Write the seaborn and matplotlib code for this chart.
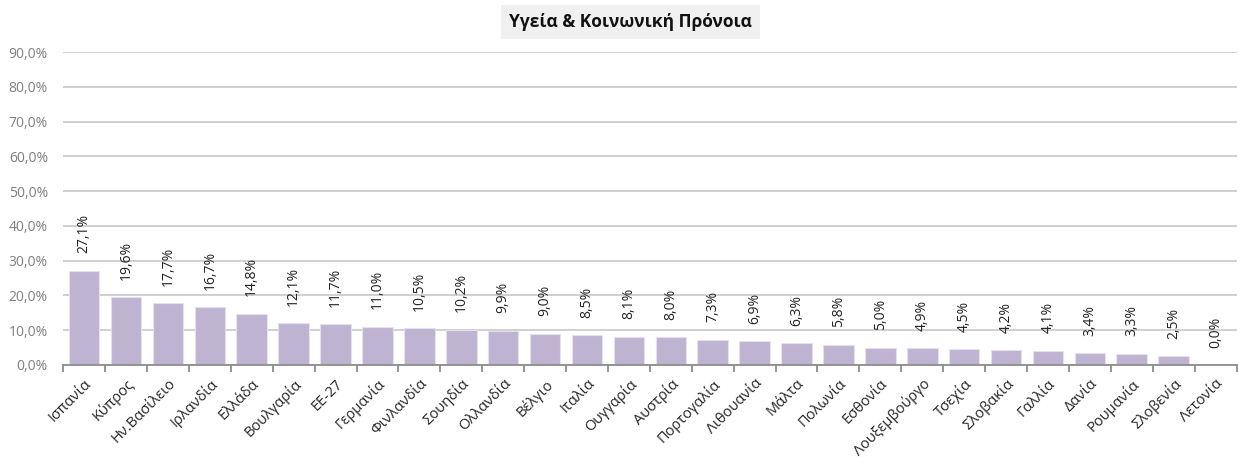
import matplotlib.pyplot as plt
import matplotlib.ticker as mticker
import pandas as pd
import seaborn as sns

countries = ["Ισπανία", "Κύπρος", "Ην.Βασίλειο", "Ιρλανδία", "Ελλάδα", "Βουλγαρία",
             "ΕΕ-27", "Γερμανία", "Φινλανδία", "Σουηδία", "Ολλανδία", "Βέλγιο",
             "Ιταλία", "Ουγγαρία", "Αυστρία", "Πορτογαλία", "Λιθουανία", "Μάλτα",
             "Πολωνία", "Εσθονία", "Λουξεμβούργο", "Τσεχία", "Σλοβακία", "Γαλλία",
             "Δανία", "Ρουμανία", "Σλοβενία", "Λετονία"]
shares = [27.1, 19.6, 17.7, 16.7, 14.8, 12.1, 11.7, 11.0, 10.5, 10.2, 9.9, 9.0,
          8.5, 8.1, 8.0, 7.3, 6.9, 6.3, 5.8, 5.0, 4.9, 4.5, 4.2, 4.1, 3.4, 3.3, 2.5, 0.0]
title = "Υγεία & Κοινωνική Πρόνοια"

df = pd.DataFrame({"country": countries, "share": shares})

sns.set_theme(style="white")
plt.rcParams["font.family"] = ["Open Sans", "DejaVu Sans"]

fig = plt.figure(figsize=(12.39, 4.62), dpi=100)
ax = fig.add_axes([0.051, 0.21, 0.947, 0.677])

sns.barplot(data=df, x="country", y="share", color="#BFB3D2", saturation=1,
            width=0.73, edgecolor="#E6E0EE", linewidth=0.8, ax=ax)

# value labels above the bars
labels = [f"{v:.1f}%".replace(".", ",") for v in shares]
ax.bar_label(ax.containers[0], labels=labels, rotation=90, padding=12.5,
             fontsize=10, color="#222222")

ax.set_ylim(0, 90)
ax.set_xlim(-0.5, len(countries) - 0.5)
ax.yaxis.set_major_locator(mticker.MultipleLocator(10))
ax.yaxis.set_major_formatter(
    mticker.FuncFormatter(lambda v, _: f"{v:.1f}%".replace(".", ",")))
ax.grid(axis="y", color="#C8C8C8", linewidth=1.2)
ax.set_axisbelow(True)

for s in ["top", "right", "left"]:
    ax.spines[s].set_visible(False)
ax.spines["bottom"].set_color("#8C8C8C")
ax.spines["bottom"].set_linewidth(1.3)

ax.tick_params(axis="y", length=0, labelsize=10, labelcolor="#7F7F7F", pad=11)
ax.set_xticks(range(len(countries)))
ax.set_xticklabels(countries, rotation=45, ha="right", rotation_mode="anchor",
                   fontsize=10.5)
ax.tick_params(axis="x", length=0, pad=8)
# category boundary ticks
ax.set_xticks([i - 0.5 for i in range(len(countries) + 1)], minor=True)
ax.tick_params(axis="x", which="minor", bottom=True, length=5, width=1.3,
               color="#8C8C8C")
ax.set_xlabel("")
ax.set_ylabel("")

fig.text(0.509, 0.953, title, ha="center", va="center", fontsize=12.5,
         fontweight="bold", color="#111111",
         bbox=dict(boxstyle="square,pad=0.45", facecolor="#F0F0F0", edgecolor="none"))

fig.savefig("out.png", dpi=100)
